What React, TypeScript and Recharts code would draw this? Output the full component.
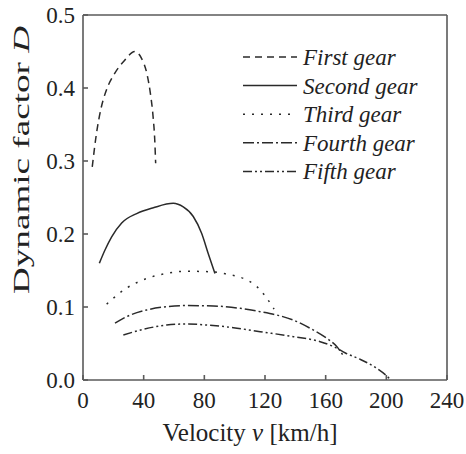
import React from "react";
import { LineChart, Line, XAxis, YAxis, ReferenceLine, Legend } from "recharts";

const firstGear = [
  { v: 6.1, d: 0.292 }, { v: 8.9, d: 0.338 }, { v: 12.1, d: 0.374 }, { v: 15.4, d: 0.397 },
  { v: 20.9, d: 0.42 }, { v: 27.5, d: 0.438 }, { v: 34.1, d: 0.45 }, { v: 38.5, d: 0.441 },
  { v: 42.3, d: 0.418 }, { v: 44.4, d: 0.393 }, { v: 46.2, d: 0.361 }, { v: 47.3, d: 0.329 },
  { v: 47.9, d: 0.297 },
];
const secondGear = [
  { v: 10.8, d: 0.16 }, { v: 14.5, d: 0.178 }, { v: 18.9, d: 0.196 }, { v: 25.5, d: 0.215 },
  { v: 35.4, d: 0.228 }, { v: 46.4, d: 0.236 }, { v: 59.5, d: 0.242 }, { v: 66.1, d: 0.237 },
  { v: 72.7, d: 0.224 }, { v: 78.2, d: 0.201 }, { v: 82.6, d: 0.173 }, { v: 87.0, d: 0.146 },
];
const thirdGear = [
  { v: 15.6, d: 0.104 }, { v: 28.8, d: 0.126 }, { v: 42.0, d: 0.139 }, { v: 55.2, d: 0.146 },
  { v: 68.4, d: 0.149 }, { v: 86.0, d: 0.148 }, { v: 94.8, d: 0.145 }, { v: 105.8, d: 0.139 },
  { v: 114.6, d: 0.128 }, { v: 120.5, d: 0.114 }, { v: 126.0, d: 0.097 },
];
const fourthGear = [
  { v: 21.1, d: 0.078 }, { v: 28.8, d: 0.0868 }, { v: 42.0, d: 0.0959 }, { v: 55.2, d: 0.1005 },
  { v: 68.4, d: 0.102 }, { v: 86.0, d: 0.1014 }, { v: 103.6, d: 0.0982 }, { v: 116.8, d: 0.0936 },
  { v: 127.8, d: 0.089 }, { v: 138.8, d: 0.082 }, { v: 149.8, d: 0.0708 }, { v: 160.8, d: 0.057 },
  { v: 167.4, d: 0.0457 }, { v: 172.0, d: 0.032 },
];
const fifthGear = [
  { v: 26.6, d: 0.0617 }, { v: 39.8, d: 0.0694 }, { v: 55.2, d: 0.0753 }, { v: 68.4, d: 0.0767 },
  { v: 81.6, d: 0.0753 }, { v: 99.2, d: 0.0717 }, { v: 116.8, d: 0.0662 }, { v: 138.8, d: 0.0594 },
  { v: 156.4, d: 0.0525 }, { v: 166.0, d: 0.045 }, { v: 173.0, d: 0.037 }, { v: 182.0, d: 0.029 },
  { v: 193.0, d: 0.017 }, { v: 199.5, d: 0.007 }, { v: 203.0, d: 0.0 },
];

const gearNames = ["First gear", "Second gear", "Third gear", "Fourth gear", "Fifth gear"];
const gearData = [firstGear, secondGear, thirdGear, fourthGear, fifthGear];
const gearDashes = ["7 5", "", "2 7", "11 3 2 3", "9 3 2 3 2 3"];

const xTicks = [0, 40, 80, 120, 160, 200, 240];
const yTicks = [0, 0.1, 0.2, 0.3, 0.4, 0.5];

const LINE_COLOR = "#2a2a2a";
const AXIS_COLOR = "#5a5a5a";
const FONT = "Liberation Serif";

const LegendContent = () => (
  <svg width={230} height={150} style={{ overflow: "visible" }}>
    {gearNames.map((name, i) => {
      const base = 25 + i * 28.6;
      return (
        <g key={name}>
          <line x1={7} x2={61} y1={base - 8} y2={base - 8} stroke={LINE_COLOR} strokeWidth={1.5}
            strokeDasharray={gearDashes[i] || undefined} />
          <text x={67} y={base} fontFamily={FONT} fontStyle="italic" fontSize={23} fill="#222">{name}</text>
        </g>
      );
    })}
  </svg>
);

const XLabel = () => (
  <text x={250} y={441} textAnchor="middle" fontFamily={FONT} fontSize={25} fill="#222">
    Velocity <tspan fontStyle="italic">v</tspan> [km/h]
  </text>
);

const YLabel = () => (
  <text x={0} y={0} transform="translate(29,160) rotate(-90)" textAnchor="middle" fontFamily={FONT}
    fontSize={23} fill="#222" textLength={268} lengthAdjust="spacingAndGlyphs">
    Dynamic factor <tspan fontStyle="italic">D</tspan>
  </text>
);

export default function App() {
  return (
    <div style={{ position: "absolute", left: 0, top: 0, width: 466, height: 454, background: "#fff" }}>
      <LineChart width={466} height={454} margin={{ top: 15, right: 19, left: 0, bottom: 0 }}>
        <XAxis type="number" dataKey="v" domain={[0, 240]} ticks={xTicks} allowDataOverflow
          height={74} stroke={AXIS_COLOR} strokeWidth={1.6} tickSize={-5} tickMargin={17}
          tick={{ fontFamily: FONT, fontSize: 23, fill: "#222" }} label={<XLabel />} interval={0} />
        <YAxis type="number" dataKey="d" domain={[0, 0.5]} ticks={yTicks} allowDataOverflow
          width={83} stroke={AXIS_COLOR} strokeWidth={1.6} tickSize={-5} tickMargin={13}
          tickFormatter={(t: number) => t.toFixed(1)}
          tick={{ fontFamily: FONT, fontSize: 23, fill: "#222" }} label={<YLabel />} interval={0} />
        <ReferenceLine y={0.5} stroke={AXIS_COLOR} strokeWidth={1.6} />
        <ReferenceLine x={240} stroke={AXIS_COLOR} strokeWidth={1.6} />
        {gearData.map((data, i) => (
          <Line key={gearNames[i]} data={data} dataKey="d" name={gearNames[i]} type="monotone"
            stroke={LINE_COLOR} strokeWidth={1.5} strokeDasharray={gearDashes[i] || undefined}
            dot={false} activeDot={false} isAnimationActive={false} />
        ))}
        <Legend layout="vertical" align="center" verticalAlign="middle" content={<LegendContent />}
          wrapperStyle={{ left: 236, top: 40, width: 230, height: 150 }} />
      </LineChart>
    </div>
  );
}
